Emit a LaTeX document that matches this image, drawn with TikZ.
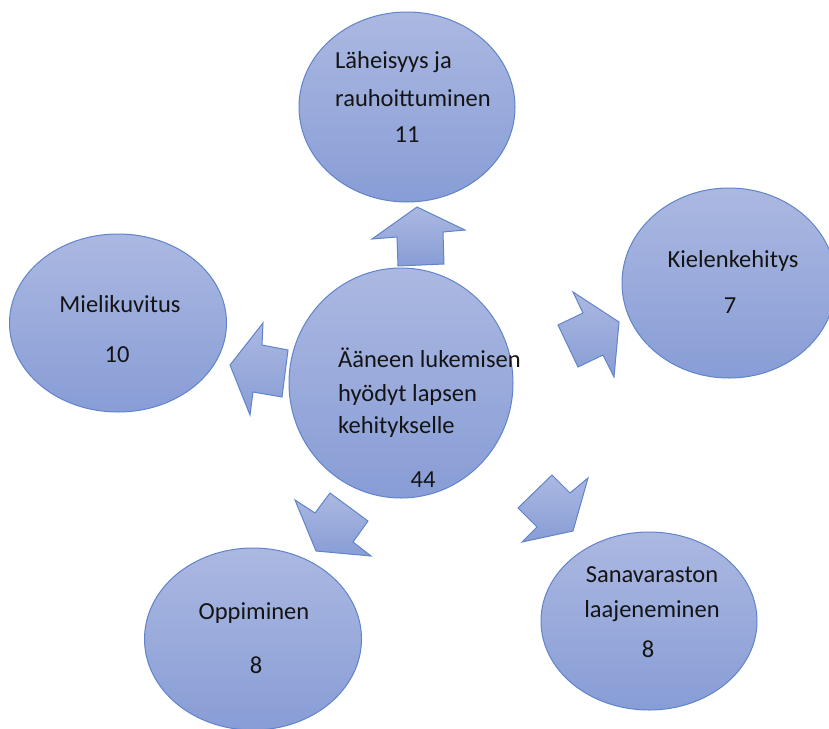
\documentclass[tikz,border=0pt]{standalone}
\usepackage{fontspec}
\setmainfont{Carlito}
\usetikzlibrary{shapes.geometric}
\definecolor{fillTop}{RGB}{171,184,225}
\definecolor{fillBot}{RGB}{136,157,214}
\definecolor{edgeC}{RGB}{96,132,204}
\definecolor{txtC}{RGB}{20,20,20}
\tikzset{
  blob/.style={ellipse, draw=edgeC, line width=1pt, top color=fillTop, bottom color=fillBot, inner sep=0pt},
  arrowshape/.style={draw=edgeC, line width=1pt, top color=fillTop, bottom color=fillBot, line join=miter},
  lbl/.style={inner sep=0pt, text=txtC, font=\fontsize{24.5}{30}\selectfont},
}
\begin{document}
\begin{tikzpicture}[x=1pt,y=-1pt]
\useasboundingbox (0,0) rectangle (829,728);
\path[fill=white] (0,0) rectangle (829,728);
% circles
\node[blob, minimum width=224pt, minimum height=230pt] (center) at (401,383) {};
\node[blob, minimum width=216pt, minimum height=190pt] (top) at (407,107) {};
\node[blob, minimum width=214pt, minimum height=190pt] (right) at (729,283) {};
\node[blob, minimum width=217pt, minimum height=178pt] (left) at (118,323) {};
\node[blob, minimum width=217pt, minimum height=182pt] (bl) at (253,639) {};
\node[blob, minimum width=216pt, minimum height=178pt] (br) at (649,621) {};
% arrows
\path[arrowshape] (417,207) -- (465,230) -- (443,232) -- (444,264) -- (398,266) -- (397,237) -- (372,239) -- cycle;
\path[arrowshape] (619,322) -- (573,292) -- (583,313) -- (558,325) -- (578,367) -- (603,355) -- (614,377) -- cycle;
\path[arrowshape] (230,365) -- (263,323) -- (262,345) -- (288,350) -- (282,397) -- (253,392) -- (250,415) -- cycle;
\path[arrowshape] (316,551) -- (295,500) -- (315,513) -- (330,493) -- (368,521) -- (353,542) -- (371,556) -- cycle;
\path[arrowshape] (573,531) -- (588,478) -- (570,493) -- (552,475) -- (518,508) -- (537,527) -- (522,542) -- cycle;
% texts
\node[lbl, anchor=base west] (t1) at (335,68) {Läheisyys ja};
\node[lbl, anchor=base west] (t2) at (335,106) {rauhoittuminen};
\node[lbl, anchor=base] (t3) at (407,142) {11};
\node[lbl, anchor=base] (r1) at (733,267) {Kielenkehitys};
\node[lbl, anchor=base] (r2) at (730,313) {7};
\node[lbl, anchor=base] (l1) at (120,312) {Mielikuvitus};
\node[lbl, anchor=base] (l2) at (117,362) {10};
\node[lbl, anchor=base west] (c1) at (338,367) {Ääneen lukemisen};
\node[lbl, anchor=base west] (c2) at (338,401) {hyödyt lapsen};
\node[lbl, anchor=base west] (c3) at (338,433) {kehitykselle};
\node[lbl, anchor=base] (c4) at (423,487) {44};
\node[lbl, anchor=base] (b1) at (254,619) {Oppiminen};
\node[lbl, anchor=base] (b2) at (256,673) {8};
\node[lbl, anchor=base] (s1) at (652,582) {Sanavaraston};
\node[lbl, anchor=base] (s2) at (652,617) {laajeneminen};
\node[lbl, anchor=base] (s3) at (648,657) {8};
\end{tikzpicture}
\end{document}
